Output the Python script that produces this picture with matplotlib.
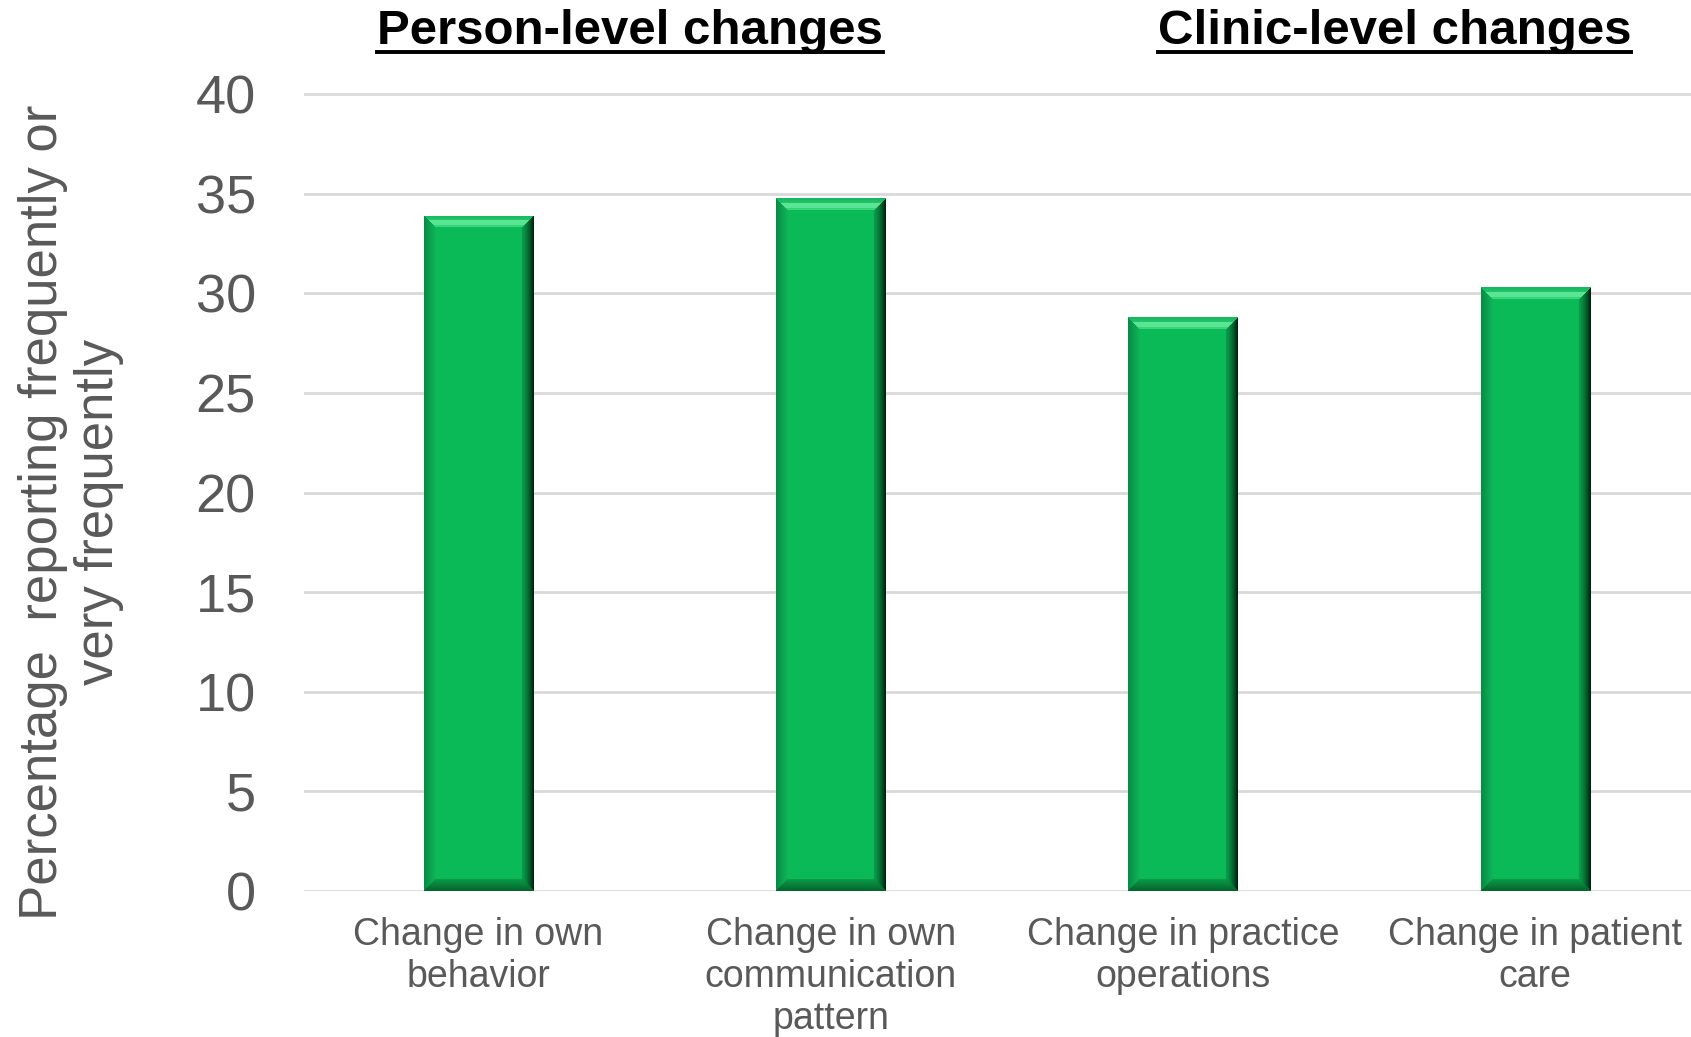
import numpy as np
import matplotlib.pyplot as plt
from matplotlib.lines import Line2D

plt.rcParams['font.family'] = ['Liberation Sans', 'DejaVu Sans']

categories = ['Change in own\nbehavior', 'Change in own\ncommunication\npattern',
              'Change in practice\noperations', 'Change in patient\ncare']
values = [33.9, 34.8, 28.8, 30.3]
group_titles = ['Person-level changes', 'Clinic-level changes']
group_pos = [0.43, 2.6]
yticks = [0, 5, 10, 15, 20, 25, 30, 35, 40]

grey = '#595959'
face = np.array([0.04, 0.73, 0.34])


def bevel_image(w, h, d=12):
    # shaded bar face with mitred bevel edges, built in pixel units
    img = np.zeros((h, w, 3))
    img[:] = face
    jj, ii = np.meshgrid(np.arange(w), np.arange(h))
    dist = np.stack([ii, h - 1 - ii, jj, w - 1 - jj])
    which = dist.argmin(axis=0)
    dmin = dist.min(axis=0)
    t = np.clip(dmin / d, 0, 1)[..., None]
    edge = dmin < d
    top_c = (1 - t) * np.array([0.08, 0.72, 0.37]) + t * np.array([0.25, 0.85, 0.50])
    bot_c = (1 - t) * np.array([0.02, 0.40, 0.18]) + t * np.array([0.04, 0.62, 0.29])
    left_c = (1 - t) * np.array([0.03, 0.55, 0.27]) + t * np.array([0.06, 0.72, 0.36])
    right_c = (1 - t) ** 1.5 * np.array([0.00, 0.14, 0.06]) + (1 - (1 - t) ** 1.5) * np.array([0.04, 0.62, 0.29])
    for k, col in enumerate([top_c, bot_c, left_c, right_c]):
        m = edge & (which == k)
        img[m] = col[m]
    # bright streak across the top bevel
    glow = (which == 0) & (dmin >= d * 0.35) & (dmin < d * 0.8)
    img[glow] = np.array([0.35, 0.90, 0.58])
    return img


fig = plt.figure(figsize=(16.91, 10.37), dpi=100)
ax = fig.add_axes([0.180, 0.141, 0.820, 0.7696])
ax.set_xlim(-0.494, 3.442)
ax.set_ylim(0, 40.08)

ax.set_yticks(yticks)
ax.yaxis.grid(True, color='#D9D9D9', linewidth=2)
ax.set_axisbelow(True)
for s in ax.spines.values():
    s.set_visible(False)
ax.tick_params(axis='both', length=0, colors=grey)
ax.tick_params(axis='y', labelsize=39, pad=35)
ax.set_xticks(range(len(categories)))
ax.set_xticklabels(categories, fontsize=27, linespacing=1.22)
ax.tick_params(axis='x', pad=19)

x = np.arange(len(values))
width = 0.31
bars = ax.bar(x, values, width=width, color=face, zorder=2)

fig.canvas.draw()
to_px = ax.transData
for b, v in zip(bars, values):
    x0, x1 = b.get_x(), b.get_x() + b.get_width()
    p0 = to_px.transform((x0, 0))
    p1 = to_px.transform((x1, v))
    w_px = int(round(p1[0] - p0[0]))
    h_px = int(round(p1[1] - p0[1]))
    im = ax.imshow(bevel_image(w_px, h_px), extent=(x0, x1, 0, v),
                   aspect='auto', interpolation='bilinear', zorder=3)
    im.set_clip_path(b)
ax.set_xlim(-0.494, 3.442)
ax.set_ylim(0, 40.08)

fig.text(0.042, 0.506, 'Percentage  reporting frequently or\nvery frequently',
         rotation=90, ha='center', va='center', multialignment='center',
         fontsize=38, color=grey, linespacing=1.15)

fig.canvas.draw()
renderer = fig.canvas.get_renderer()
for pos, title in zip(group_pos, group_titles):
    xf = fig.transFigure.inverted().transform(ax.transData.transform((pos, 0)))[0]
    t = fig.text(xf, 0.970, title, ha='center', va='center',
                 fontsize=35.5, fontweight='bold', color='black')
    bb = t.get_window_extent(renderer).transformed(fig.transFigure.inverted())
    fig.add_artist(Line2D([bb.x0, bb.x1], [bb.y0 + 0.002, bb.y0 + 0.002],
                          transform=fig.transFigure, color='black', linewidth=2.8))

fig.savefig('out.png', dpi=100)
